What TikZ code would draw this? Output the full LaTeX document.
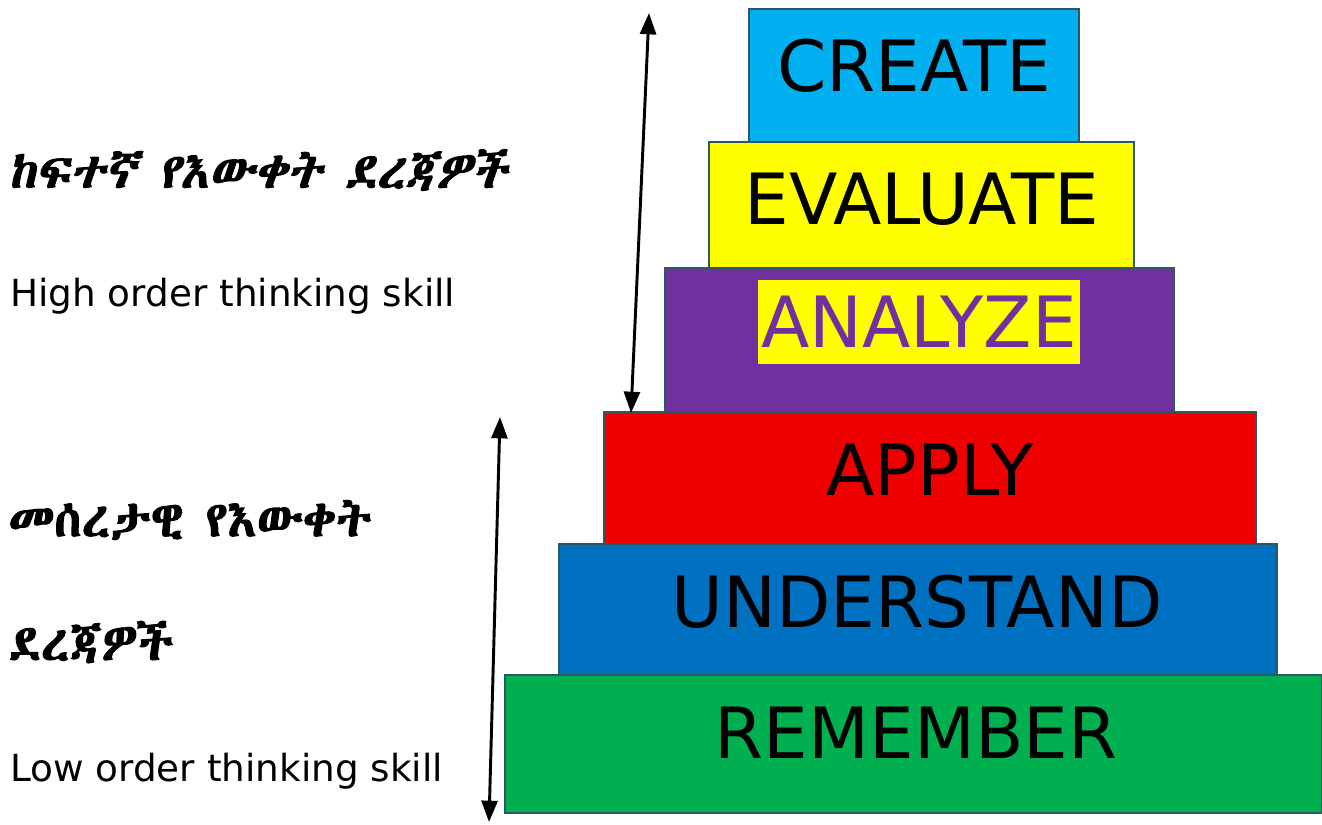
\documentclass[tikz,border=0pt]{standalone}
\usepackage{fontspec}
\setmainfont{DejaVu Sans}
\usetikzlibrary{fit,arrows.meta}

% Ethiopic face: take the first one that exists
\def\ethname{DejaVu Sans}
\IfFontExistsTF{FreeSerif}{\def\ethname{FreeSerif}}{}
\IfFontExistsTF{Abyssinica SIL}{\def\ethname{Abyssinica SIL}}{}
\newfontfamily\ethfont{\ethname}[AutoFakeBold=2]
\newfontfamily\ethslant{\ethname}[AutoFakeBold=2,FakeSlant=0.2]

\definecolor{createcol}{HTML}{00B0F0}
\definecolor{evalcol}{HTML}{FFFF00}
\definecolor{analyzecol}{HTML}{7030A0}
\definecolor{applycol}{HTML}{EE0000}
\definecolor{undercol}{HTML}{0070C0}
\definecolor{remcol}{HTML}{00B050}
\definecolor{edgecol}{HTML}{2A5863}

\tikzset{
  level/.style={
    draw=edgecol,line width=1.5pt,inner sep=0pt,
  },
  word/.style={
    font=\fontsize{53}{53}\selectfont,inner sep=0pt,
  },
  side/.style={
    font=\fontsize{28}{28}\selectfont,inner sep=0pt,anchor=base west,
  },
  eth/.style={
    inner sep=0pt,anchor=west,
  },
  twoway/.style={
    line width=2.2pt,{Triangle[length=16pt,width=12pt]}-{Triangle[length=16pt,width=12pt]},
  }
}

\begin{document}
\begin{tikzpicture}[x=0.75pt,y=-0.75pt]
    \useasboundingbox (0,0) rectangle (1322,825);

    % the six levels
    \node[level,fill=createcol, fit={(749,9) (1079,142)}]   (create) {};
    \node[level,fill=evalcol,   fit={(709,142) (1134,268)}] (evaluate) {};
    \node[level,fill=analyzecol,fit={(665,268) (1174,412)}] (analyze) {};
    \node[level,fill=applycol,  fit={(604,412) (1256,544)}] (apply) {};
    \node[level,fill=undercol,  fit={(559,544) (1277,675)}] (understand) {};
    \node[level,fill=remcol,    fit={(505,675) (1322,813)}] (remember) {};

    \node[word] (createtxt)   at (914,66)  {CREATE};
    \node[word] (evaltxt)     at (922,199) {EVALUATE};
    \node[word,fill=evalcol,text=analyzecol,inner xsep=2pt,minimum height=63pt]
                (analyzetxt)  at (919,322) {ANALYZE};
    \node[word] (applytxt)    at (930,470) {APPLY};
    \node[word] (undertxt)    at (917,602) {UNDERSTAND};
    \node[word] (remtxt)      at (916,733) {REMEMBER};

    % left hand labels
    \node[eth,font=\ethslant\bfseries\fontsize{36.5}{36.5}\selectfont] (highamh) at (8,170) {ከፍተኛ የእውቀት ደረጃዎች};
    \node[side] (highen) at (10,306) {High order thinking skill};
    \node[eth,font=\ethfont\bfseries\fontsize{37}{37}\selectfont] (lowamh1) at (8,520) {መሰረታዊ የእውቀት};
    \node[eth,font=\ethfont\bfseries\fontsize{37}{37}\selectfont] (lowamh2) at (8,642) {ደረጃዎች};
    \node[side] (lowen) at (10,781) {Low order thinking skill};

    % arrows
    \coordinate (hightop) at (649,13);
    \coordinate (highbot) at (631,413);
    \coordinate (lowtop)  at (500,417);
    \coordinate (lowbot)  at (489,822);
    \draw[twoway] (highbot) -- (hightop);
    \draw[twoway] (lowbot) -- (lowtop);
\end{tikzpicture}
\end{document}
